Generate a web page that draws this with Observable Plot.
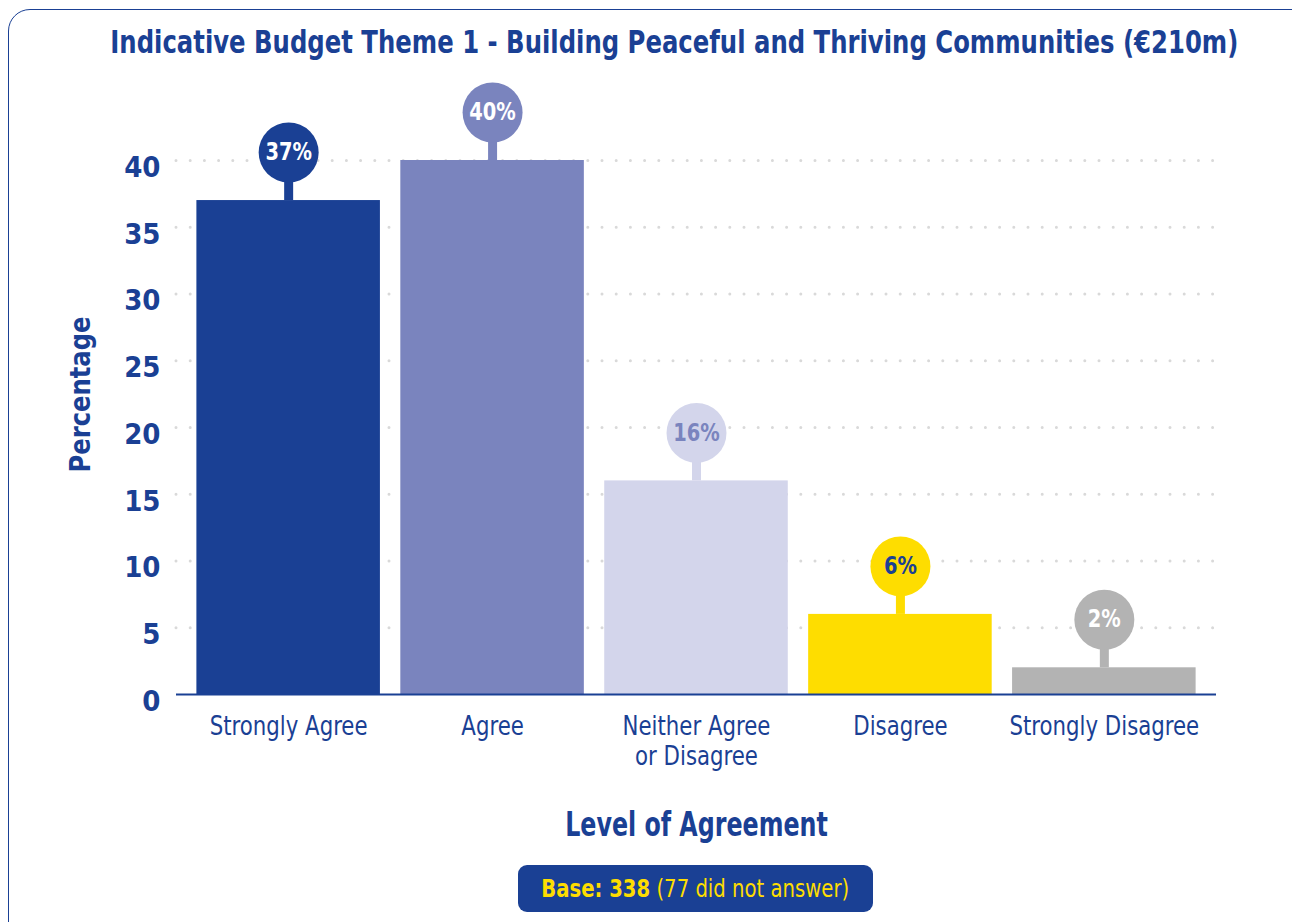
<!DOCTYPE html>
<html><head><meta charset="utf-8">
<script src="https://cdn.jsdelivr.net/npm/d3@7"></script>
<script src="https://cdn.jsdelivr.net/npm/@observablehq/plot@0.6"></script>
<style>
body{margin:0;background:#fff;width:1292px;height:922px;overflow:hidden;position:relative;font-family:"Liberation Sans Narrow","DejaVu Sans Condensed","Roboto Condensed",Roboto,sans-serif;font-stretch:condensed;color:#1a4094;}
#frame{position:absolute;left:8px;top:9px;width:1310px;height:960px;border:1.5px solid #1a4094;border-radius:22px;box-sizing:border-box;}
#title{position:absolute;left:0;top:24px;width:1348px;text-align:center;font-size:32px;font-weight:bold;line-height:36px;white-space:nowrap;}
#title span,#base span{display:inline-block;transform-origin:50% 50%;}
#chart{position:absolute;left:0;top:60px;}
#base{position:absolute;left:518px;top:865px;width:355px;height:47px;border-radius:9px;background:#1a4094;color:#fedd00;font-size:25px;line-height:47px;text-align:center;white-space:nowrap;}
#base b{font-weight:bold;}
</style></head>
<body>
<div id="frame"></div>
<div id="title"><span id="titleText"></span></div>
<div id="chart"></div>
<div id="base"><span id="baseText"></span></div>
<script>
const titleText = "Indicative Budget Theme 1 - Building Peaceful and Thriving Communities (€210m)";
const categories = ["Strongly Agree","Agree","Neither Agree or Disagree","Disagree","Strongly Disagree"];
const tickLabels = ["Strongly Agree","Agree","Neither Agree\nor Disagree","Disagree","Strongly Disagree"];
const values = [37, 40, 16, 6, 2];
const barColors = ["#1a4094","#7a84be","#d3d5eb","#fedd00","#b3b3b3"];
const labelColors = ["#ffffff","#ffffff","#7a84be","#1a4094","#ffffff"];
const yTicks = [0,5,10,15,20,25,30,35,40];
const yLabel = "Percentage";
const xLabel = "Level of Agreement";
const baseBold = "Base: 338";
const baseRest = " (77 did not answer)";

const titleEl = document.getElementById("titleText");
titleEl.textContent = titleText;
const baseEl = document.getElementById("baseText");
baseEl.innerHTML = "<b>" + baseBold + "</b>" + baseRest;
function fitWidth(el, target) {
  const w = el.getBoundingClientRect().width;
  el.style.transform = `scaleX(${target / w})`;
}
fitWidth(titleEl, 1128);
fitWidth(baseEl, 308);

const data = categories.map((c, i) => ({cat: c, value: values[i], fill: barColors[i], text: labelColors[i]}));
const stemUnits = 3;
const blue = "#1a4094";

const chart = Plot.plot({
  width: 1292,
  height: 784,
  marginTop: 100,
  marginBottom: 150,
  marginLeft: 176,
  marginRight: 76,
  style: {fontFamily: "'Liberation Sans Narrow','DejaVu Sans Condensed','Roboto Condensed',Roboto,sans-serif", color: blue, background: "transparent"},
  x: {domain: categories, padding: 0.1, round: false, label: null},
  y: {domain: [0, 40], label: null},
  marks: [
    Plot.ruleY(yTicks.filter(d => d > 0), {stroke: "#d9d9d9", strokeWidth: 3, strokeDasharray: "0 14.2", strokeLinecap: "round"}),
    Plot.barY(data, {x: "cat", y: "value", fill: "fill"}),
    Plot.ruleX(data, {x: "cat", y1: "value", y2: d => d.value + stemUnits, stroke: "fill", strokeWidth: 9}),
    Plot.dot(data, {x: "cat", y: "value", dy: -48, r: 30, fill: "fill"}),
    Plot.text(data, {x: "cat", y: "value", dy: -48, text: d => d.value + "%", fill: "text", fontSize: 24, fontWeight: "bold", className: "sq-bubble"}),
    Plot.ruleY([0], {stroke: blue, strokeWidth: 2}),
    Plot.axisY({ticks: yTicks, tickSize: 0, tickPadding: 16, fontSize: 29, fontWeight: "bold", fill: blue, dy: 7, label: null}),
    Plot.axisX({tickSize: 0, tickPadding: 19, fontSize: 26, fill: blue, lineHeight: 1.15, tickFormat: d => tickLabels[categories.indexOf(d)], label: null, className: "sq-xtick"}),
    Plot.text([yLabel], {frameAnchor: "left", textAnchor: "middle", rotate: -90, dx: -96, dy: -33, text: d => d, fontSize: 29, fontWeight: "bold", fill: blue, className: "sq-ylabel"}),
    Plot.text([xLabel], {frameAnchor: "bottom", lineAnchor: "middle", dy: 131, text: d => d, fontSize: 33, fontWeight: "bold", fill: blue, className: "sq-xlabel"})
  ]
});
document.getElementById("chart").appendChild(chart);

// emulate the narrow typeface of the original by squeezing text horizontally around its anchor
function squeeze(cls, f) {
  chart.querySelectorAll(`g.${cls} text, .${cls} text`).forEach(t => {
    const tr = t.getAttribute("transform") || "";
    t.setAttribute("transform", tr + ` scale(${f},1)`);
  });
}
squeeze("sq-bubble", 0.9);
squeeze("sq-xtick", 0.91);
squeeze("sq-ylabel", 0.93);
squeeze("sq-xlabel", 0.8);
</script>
</body></html>
